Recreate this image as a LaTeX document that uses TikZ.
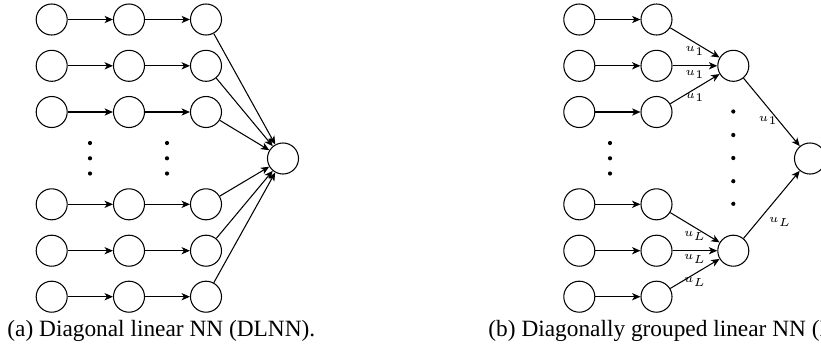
\documentclass[tikz,border=0pt]{standalone}
\usepackage[no-math]{fontspec}
\setmainfont{Liberation Serif}
\usetikzlibrary{arrows.meta}
\tikzset{
  neuron/.style={draw, circle, minimum size=13.3pt, inner sep=0pt, line width=0.45pt},
  conn/.style={-{Stealth[length=3.6pt,width=3.1pt,inset=1pt]}, line width=0.45pt},
  dot/.style={fill=black, circle, inner sep=0pt, minimum size=1.8pt},
  wlab/.style={font=\tiny, inner sep=1.6pt},
  captext/.style={font=\fontsize{10pt}{12pt}\selectfont, inner sep=0pt, anchor=west}
}
\begin{document}
\begin{tikzpicture}[x=0.4286pt, y=-0.4286pt]
\clip (0,0) rectangle (821,358);
\fill[white] (0,0) rectangle (821,358);
% ---------- left panel ----------
\foreach \r/\y in {1/19.5, 2/65.8, 3/112, 4/204.3, 5/250.7, 6/296.7}{
  \node[neuron] (a\r1) at (51.7,\y) {};
  \node[neuron] (a\r2) at (129,\y) {};
  \node[neuron] (a\r3) at (206,\y) {};
}
\node[neuron] (aout) at (283,158.5) {};
\foreach \r in {1,...,6}{
  \draw[conn] (a\r1) -- (a\r2);
  \draw[conn] (a\r2) -- (a\r3);
  \draw[conn] (a\r3) -- (aout);
}
\foreach \x [count=\i] in {90,167}{
  \node[dot] (adt\i a) at (\x,143) {};
  \node[dot] (adt\i b) at (\x,158.3) {};
  \node[dot] (adt\i c) at (\x,173.5) {};
}
\node[captext] (capa) at (7,331) {(a) Diagonal linear NN (DLNN).};
% ---------- right panel ----------
\foreach \r/\y in {1/19.5, 2/65.8, 3/112, 4/204.3, 5/250.7, 6/296.7}{
  \node[neuron] (b\r1) at (579.3,\y) {};
  \node[neuron] (b\r2) at (656.5,\y) {};
  \draw[conn] (b\r1) -- (b\r2);
}
\node[neuron] (g1) at (733.3,65.8) {};
\node[neuron] (g2) at (733.3,250.7) {};
\node[neuron] (bout) at (810,158.5) {};
\foreach \r in {1,2,3}{
  \draw[conn] (b\r2) -- node[wlab, below] {$u_1$} (g1);
}
\foreach \r in {4,5,6}{
  \draw[conn] (b\r2) -- node[wlab, below] {$u_L$} (g2);
}
\draw[conn] (g1) -- node[wlab, below, xshift=-1.5pt] {$u_1$} (bout);
\draw[conn] (g2) -- node[wlab, midway, anchor=center, xshift=3.6pt, yshift=-7.3pt] {$u_L$} (bout);
\node[dot] (bdl1) at (610,143) {};
\node[dot] (bdl2) at (610,158.3) {};
\node[dot] (bdl3) at (610,173.5) {};
\foreach \y [count=\i] in {111.5,135,158,181.2,203.8}{
  \node[dot] (bdg\i) at (733.3,\y) {};
}
\node[captext] (capb) at (488,331) {(b) Diagonally grouped linear NN (DGLNN).};
\end{tikzpicture}
\end{document}
